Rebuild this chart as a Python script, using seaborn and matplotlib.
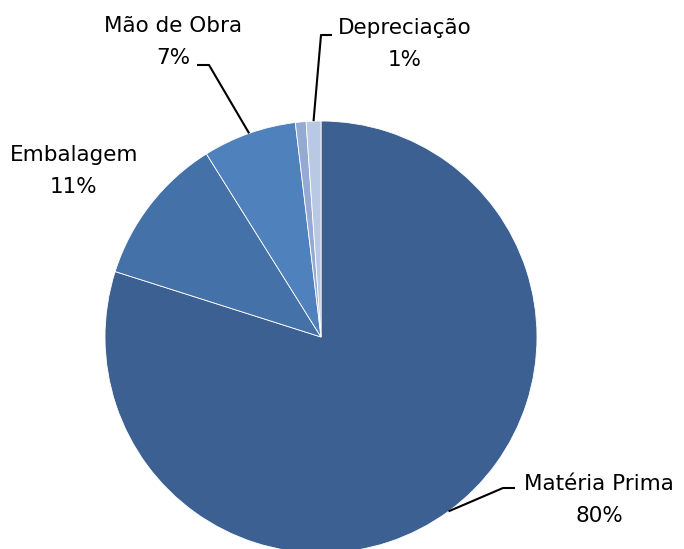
import numpy as np
import matplotlib
matplotlib.use("Agg")
import matplotlib.pyplot as plt
import seaborn as sns

# cost shares (%), clockwise from 12 o'clock
categories = ['Matéria Prima', 'Embalagem', 'Mão de Obra', 'Outros', 'Depreciação']
shares = [79.9, 11.2, 7.0, 0.8, 1.1]
show_label = [True, True, True, False, True]
colors = ['#3C6091', '#4471A7', '#4F81BD', '#95AAD3', '#B9C8E3']

sns.set_theme(style='white')
plt.rcParams['font.family'] = ['DejaVu Sans']

fig = plt.figure(figsize=(6.84, 5.49), dpi=100)
ax = fig.add_axes([0, 0, 1, 1])

# pie centre / radius in pixels of the 684x549 canvas
cx, cy, r = 321, 337, 216


def px(x, y):
    return ((x - cx) / r, (cy - y) / r)


wedges, _ = ax.pie(shares, colors=colors, startangle=90, counterclock=False,
                   radius=1, wedgeprops=dict(edgecolor='white', linewidth=0.6))
ax.set_xlim(-cx / r, (684 - cx) / r)
ax.set_ylim((cy - 549) / r, cy / r)
ax.set_aspect('equal')
ax.axis('off')

# label anchor (baseline of the % line) and leader elbow, in pixels
label_pos = {0: (599, 522), 1: (74, 193), 2: (173, 64), 4: (405, 66)}
leaders = {0: [(515, 488), (503, 488)],
           2: [(197, 65), (209, 65)],
           4: [(332, 35), (321, 35)]}

for i, w in enumerate(wedges):
    if not show_label[i]:
        continue
    x, y = px(*label_pos[i])
    ax.text(x, y, f'{categories[i]}\n{round(shares[i])}%', ha='center',
            va='baseline', multialignment='center', fontsize=15.5,
            linespacing=1.78, color='black')
    if i in leaders:
        mid = np.deg2rad((w.theta1 + w.theta2) / 2)
        pts = [px(*p) for p in leaders[i]] + [(np.cos(mid), np.sin(mid))]
        xs, ys = zip(*pts)
        ax.plot(xs, ys, color='black', lw=1.5, solid_capstyle='butt')

fig.savefig('out.png', dpi=100)
